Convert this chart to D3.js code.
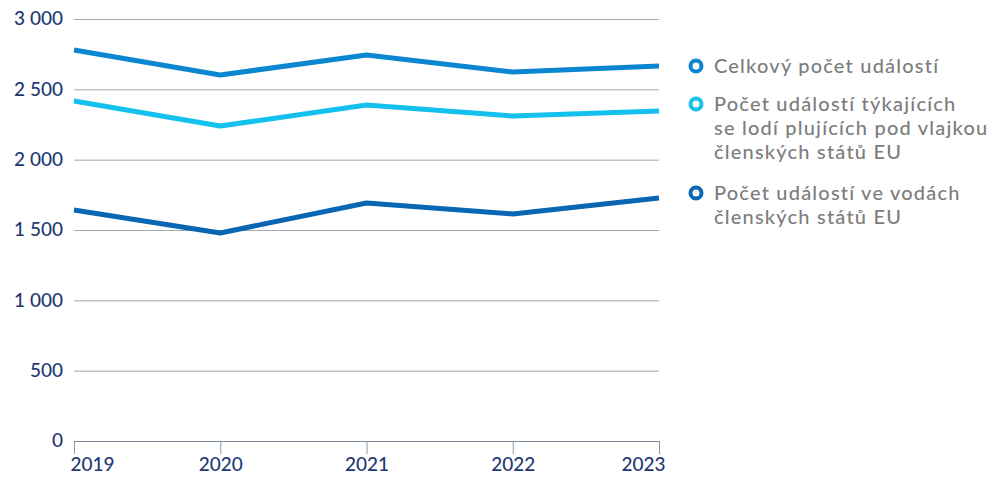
<!DOCTYPE html>
<html>
<head>
<meta charset="utf-8">
<script src="https://cdn.jsdelivr.net/npm/d3@7"></script>
<style>
  body { margin: 0; background: #fff; }
  svg text { font-family: "Lato", "Open Sans", sans-serif; }
  .tick text { fill: #1f3a73; }
</style>
</head>
<body>
<div id="chart"></div>
<script>
// data
const years = [2019, 2020, 2021, 2022, 2023];
const totalEvents = [2780, 2602, 2744, 2623, 2666];
const flagEvents = [2417, 2239, 2389, 2310, 2346];
const watersEvents = [1642, 1479, 1692, 1614, 1727];
const yTicks = [0, 500, 1000, 1500, 2000, 2500, 3000];

const series = [
  { name: ["Celkový počet událostí"], values: totalEvents, color: "#0a87d0" },
  { name: ["Počet událostí týkajících", "se lodí plujících pod vlajkou", "členských států EU"], values: flagEvents, color: "#13c0ee" },
  { name: ["Počet událostí ve vodách", "členských států EU"], values: watersEvents, color: "#0866b3" }
];

const W = 995, H = 477;
const margin = { top: 19, right: 336, bottom: 36, left: 74 };
const width = W - margin.left - margin.right,
  height = H - margin.top - margin.bottom;

const svg = d3.select("#chart").append("svg")
  .attr("width", W)
  .attr("height", H);

const g = svg.append("g")
  .attr("transform", "translate(" + margin.left + "," + margin.top + ")");

const x = d3.scalePoint().domain(years).range([0, width]);
const y = d3.scaleLinear().domain([0, 3000]).range([height, 0]);

const fmt = v => d3.format(",")(v).replace(",", " ");

// gridlines + y labels
const yAxis = g.append("g")
  .call(d3.axisLeft(y).tickValues(yTicks).tickSize(-width).tickFormat(fmt).tickPadding(11));
yAxis.attr("font-family", null);
yAxis.select(".domain").remove();
yAxis.selectAll(".tick line").attr("stroke", d => d === 0 ? "#7b8b99" : "#a3a9b0").attr("stroke-width", 1);
yAxis.selectAll(".tick text").attr("font-size", 19).attr("font-weight", 500).attr("dy", "0.3em");

// x axis
const xAxis = g.append("g")
  .attr("transform", "translate(0," + height + ")")
  .call(d3.axisBottom(x).tickSize(13).tickPadding(4));
xAxis.attr("font-family", null);
xAxis.select(".domain").remove();
xAxis.selectAll(".tick line").attr("stroke", "#8e9aa5");
xAxis.selectAll(".tick text")
  .attr("font-size", 19)
  .attr("font-weight", 500)
  .attr("text-anchor", (d, i) => i === 0 ? "start" : i === years.length - 1 ? "end" : "middle")
  .attr("dx", (d, i) => i === 0 ? -4 : i === years.length - 1 ? 6 : 0);

// lines
const line = d3.line()
  .x((d, i) => x(years[i]))
  .y(d => y(d));

g.selectAll("path.series")
  .data(series)
  .enter().append("path")
  .attr("class", "series")
  .attr("fill", "none")
  .attr("stroke", d => d.color)
  .attr("stroke-width", 5)
  .attr("stroke-linejoin", "round")
  .attr("d", d => line(d.values));

// legend
const legendTop = [66, 104, 193];
const legend = svg.append("g").attr("transform", "translate(696,0)");
series.forEach((s, i) => {
  const lg = legend.append("g").attr("transform", "translate(0," + legendTop[i] + ")");
  lg.append("circle")
    .attr("r", 5.5)
    .attr("fill", "#fff")
    .attr("stroke", s.color)
    .attr("stroke-width", 4);
  lg.append("text")
    .attr("x", 18)
    .attr("font-size", 20)
    .attr("font-weight", 500)
    .attr("letter-spacing", 1.2)
    .attr("fill", "#7d7d7d")
    .selectAll("tspan")
    .data(s.name)
    .enter().append("tspan")
    .attr("x", 18)
    .attr("y", (d, j) => j * 24)
    .attr("dy", "0.35em")
    .text(d => d);
});
</script>
</body>
</html>
